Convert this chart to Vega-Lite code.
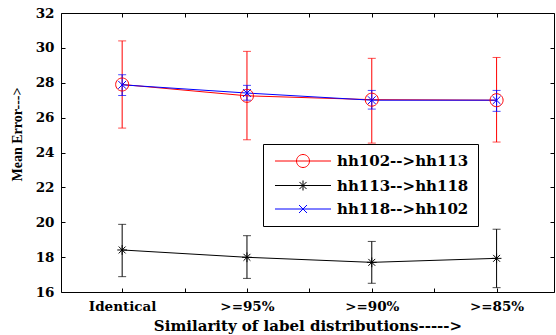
{
  "$schema": "https://vega.github.io/schema/vega-lite/v6.json",
  "width": 493,
  "height": 279,
  "autosize": "none",
  "padding": {"left": 61, "top": 13, "right": 2, "bottom": 43},
  "background": "white",
  "config": {
    "view": {"stroke": null},
    "axis": {
      "grid": false,
      "domainColor": "black",
      "domainWidth": 1,
      "tickColor": "black",
      "tickWidth": 1,
      "tickSize": -4,
      "labelColor": "black",
      "titleColor": "black",
      "labelFont": "DejaVu Serif",
      "labelFontWeight": "bold",
      "labelFontSize": 13.5,
      "titleFont": "DejaVu Serif",
      "titleFontWeight": "bold"
    }
  },
  "data": {
    "values": [
      {"series": "hh102-->hh113", "x": 1, "mean": 27.9, "lo": 25.4, "hi": 30.4},
      {"series": "hh102-->hh113", "x": 2, "mean": 27.25, "lo": 24.73, "hi": 29.8},
      {"series": "hh102-->hh113", "x": 3, "mean": 27.03, "lo": 24.54, "hi": 29.4},
      {"series": "hh102-->hh113", "x": 4, "mean": 27.0, "lo": 24.6, "hi": 29.45},
      {"series": "hh113-->hh118", "x": 1, "mean": 18.41, "lo": 16.88, "hi": 19.88},
      {"series": "hh113-->hh118", "x": 2, "mean": 17.99, "lo": 16.78, "hi": 19.23},
      {"series": "hh113-->hh118", "x": 3, "mean": 17.7, "lo": 16.5, "hi": 18.9},
      {"series": "hh113-->hh118", "x": 4, "mean": 17.93, "lo": 16.25, "hi": 19.6},
      {"series": "hh118-->hh102", "x": 1, "mean": 27.88, "lo": 27.27, "hi": 28.46},
      {"series": "hh118-->hh102", "x": 2, "mean": 27.41, "lo": 27.0, "hi": 27.85},
      {"series": "hh118-->hh102", "x": 3, "mean": 27.0, "lo": 26.49, "hi": 27.56},
      {"series": "hh118-->hh102", "x": 4, "mean": 27.0, "lo": 26.36, "hi": 27.56}
    ]
  },
  "encoding": {
    "color": {
      "field": "series", "type": "nominal",
      "scale": {"domain": ["hh102-->hh113", "hh113-->hh118", "hh118-->hh102"], "range": ["#ff0000", "#000000", "#0000ff"]},
      "legend": {
        "orient": "none",
        "legendX": 202,
        "legendY": 131,
        "title": null,
        "strokeColor": "black",
        "fillColor": "white",
        "padding": 9,
        "rowPadding": 7.5,
        "symbolSize": 225,
        "symbolStrokeWidth": 1,
        "symbolFillColor": "transparent",
        "labelFont": "DejaVu Serif",
        "labelFontWeight": "bold",
        "labelFontSize": 15,
        "labelColor": "black",
        "labelOffset": 49,
        "labelLimit": 0,
        "encoding": {
          "symbols": {
            "shape": {
              "condition": [
                {"test": "datum.value == 'hh102-->hh113'", "value": "M-0.667,0L6.8,0M2.2,0A0.867,0.867,0,1,1,3.934,0A0.867,0.867,0,1,1,2.2,0"},
                {"test": "datum.value == 'hh113-->hh118'", "value": "M-0.667,0L6.8,0M3.067,-0.667L3.067,0.667M2.596,-0.471L3.538,0.471M2.596,0.471L3.538,-0.471"}
              ],
              "value": "M-0.667,0L6.8,0M2.534,-0.533L3.6,0.533M2.534,0.533L3.6,-0.533"
            },
            "fillOpacity": {"value": 0},
            "strokeOpacity": {"value": 1},
            "strokeWidth": {"value": 1}
          }
        }
      }
    }
  },
  "layer": [
    {
      "mark": {"type": "rule", "strokeWidth": 1},
      "encoding": {
        "x": {
          "field": "x", "type": "quantitative",
          "scale": {"domain": [0.51, 4.46], "nice": false, "zero": false},
          "axis": {
            "orient": "bottom",
            "values": [1, 1.5, 2, 2.5, 3, 3.5, 4],
            "labelExpr": "datum.value == 1 ? 'Identical' : datum.value == 2 ? '>=95%' : datum.value == 3 ? '>=90%' : datum.value == 4 ? '>=85%' : ''",
            "labelPadding": 11,
            "title": "Similarity of label distributions----->",
            "titleFontSize": 15,
            "titlePadding": 6
          }
        },
        "y": {
          "field": "lo", "type": "quantitative",
          "scale": {"domain": [16, 32], "nice": false, "zero": false},
          "axis": {
            "orient": "left",
            "values": [16, 18, 20, 22, 24, 26, 28, 30, 32],
            "labelPadding": 11,
            "title": "Mean Error--->",
            "titleFont": "Liberation Serif",
            "titleFontSize": 14,
            "titleX": -44,
            "titleY": 121,
            "titleAngle": -90,
            "titleAlign": "center",
            "titleBaseline": "middle"
          }
        },
        "y2": {"field": "hi"}
      }
    },
    {
      "mark": {"type": "tick", "orient": "horizontal", "size": 8, "thickness": 1},
      "encoding": {
        "x": {"field": "x", "type": "quantitative", "axis": null},
        "y": {"field": "lo", "type": "quantitative", "axis": null}
      }
    },
    {
      "mark": {"type": "tick", "orient": "horizontal", "size": 8, "thickness": 1},
      "encoding": {
        "x": {"field": "x", "type": "quantitative", "axis": null},
        "y": {"field": "hi", "type": "quantitative", "axis": null}
      }
    },
    {
      "mark": {"type": "line", "strokeWidth": 1},
      "encoding": {
        "x": {
          "field": "x", "type": "quantitative",
          "axis": {"orient": "top", "values": [1, 1.5, 2, 2.5, 3, 3.5, 4], "labels": false, "title": null}
        },
        "y": {
          "field": "mean", "type": "quantitative",
          "axis": {"orient": "right", "values": [16, 18, 20, 22, 24, 26, 28, 30, 32], "labels": false, "title": null}
        }
      }
    },
    {
      "transform": [{"filter": "datum.series == 'hh102-->hh113'"}],
      "mark": {"type": "point", "filled": false, "strokeWidth": 1, "size": 169, "opacity": 1, "shape": "M-1,0A1,1,0,1,1,1,0A1,1,0,1,1,-1,0"},
      "encoding": {
        "x": {"field": "x", "type": "quantitative", "axis": null},
        "y": {"field": "mean", "type": "quantitative", "axis": null}
      }
    },
    {
      "transform": [{"filter": "datum.series == 'hh113-->hh118'"}],
      "mark": {"type": "point", "filled": false, "strokeWidth": 1, "size": 169, "opacity": 1, "shape": "M0,-0.75L0,0.75M-0.75,0L0.75,0M-0.53,-0.53L0.53,0.53M-0.53,0.53L0.53,-0.53"},
      "encoding": {
        "x": {"field": "x", "type": "quantitative", "axis": null},
        "y": {"field": "mean", "type": "quantitative", "axis": null}
      }
    },
    {
      "transform": [{"filter": "datum.series == 'hh118-->hh102'"}],
      "mark": {"type": "point", "filled": false, "strokeWidth": 1, "size": 169, "opacity": 1, "shape": "M-0.6,-0.6L0.6,0.6M-0.6,0.6L0.6,-0.6"},
      "encoding": {
        "x": {"field": "x", "type": "quantitative", "axis": null},
        "y": {"field": "mean", "type": "quantitative", "axis": null}
      }
    }
  ],
  "resolve": {"axis": {"x": "independent", "y": "independent"}}
}
